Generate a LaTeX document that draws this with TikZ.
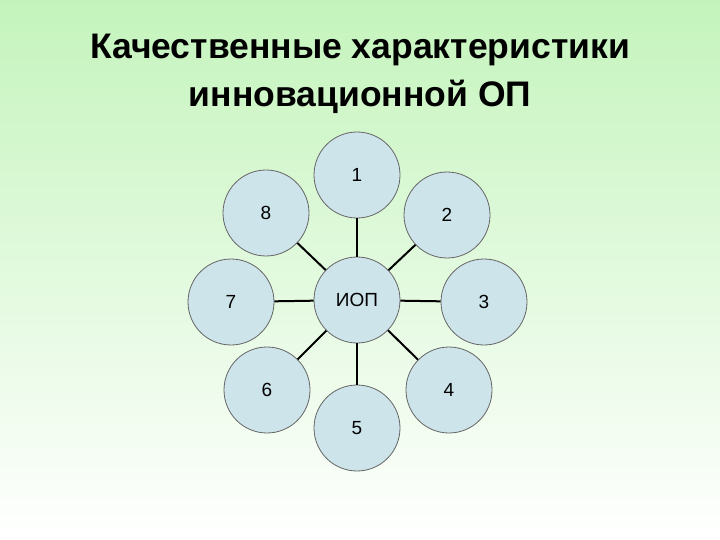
\documentclass[tikz,border=0pt]{standalone}
\usepackage{fontspec}
\setmainfont{Liberation Sans}
\begin{document}
\begin{tikzpicture}[x=1pt,y=-1pt,
  circ/.style={circle,draw=gray!80!black,line width=0.8pt,fill={rgb,255:red,205;green,228;blue,234},minimum size=86pt,inner sep=0pt,font=\fontsize{19}{19}\selectfont},
  link/.style={line width=2pt,black}]
\shade[top color={rgb,255:red,196;green,244;blue,188},bottom color=white] (0,0) rectangle (720,540);
\useasboundingbox (0,0) rectangle (720,540);
\node[font=\bfseries\fontsize{35.5}{35.5}\selectfont] (t1) at (360,50) {Качественные характеристики};
\node[font=\bfseries\fontsize{35.5}{35.5}\selectfont] (t2) at (360,97) {инновационной ОП};
\node[circ] (c) at (357,300) {ИОП};
\node[circ] (n1) at (357,175) {1};
\node[circ] (n2) at (447,215) {2};
\node[circ] (n3) at (484,302) {3};
\node[circ] (n4) at (449,390) {4};
\node[circ] (n5) at (357,428) {5};
\node[circ] (n6) at (267,390) {6};
\node[circ] (n7) at (231,302) {7};
\node[circ] (n8) at (266,213) {8};
\foreach \n in {n1,n2,n3,n4,n5,n6,n7,n8}{\draw[link] (c) -- (\n);}
\end{tikzpicture}
\end{document}
